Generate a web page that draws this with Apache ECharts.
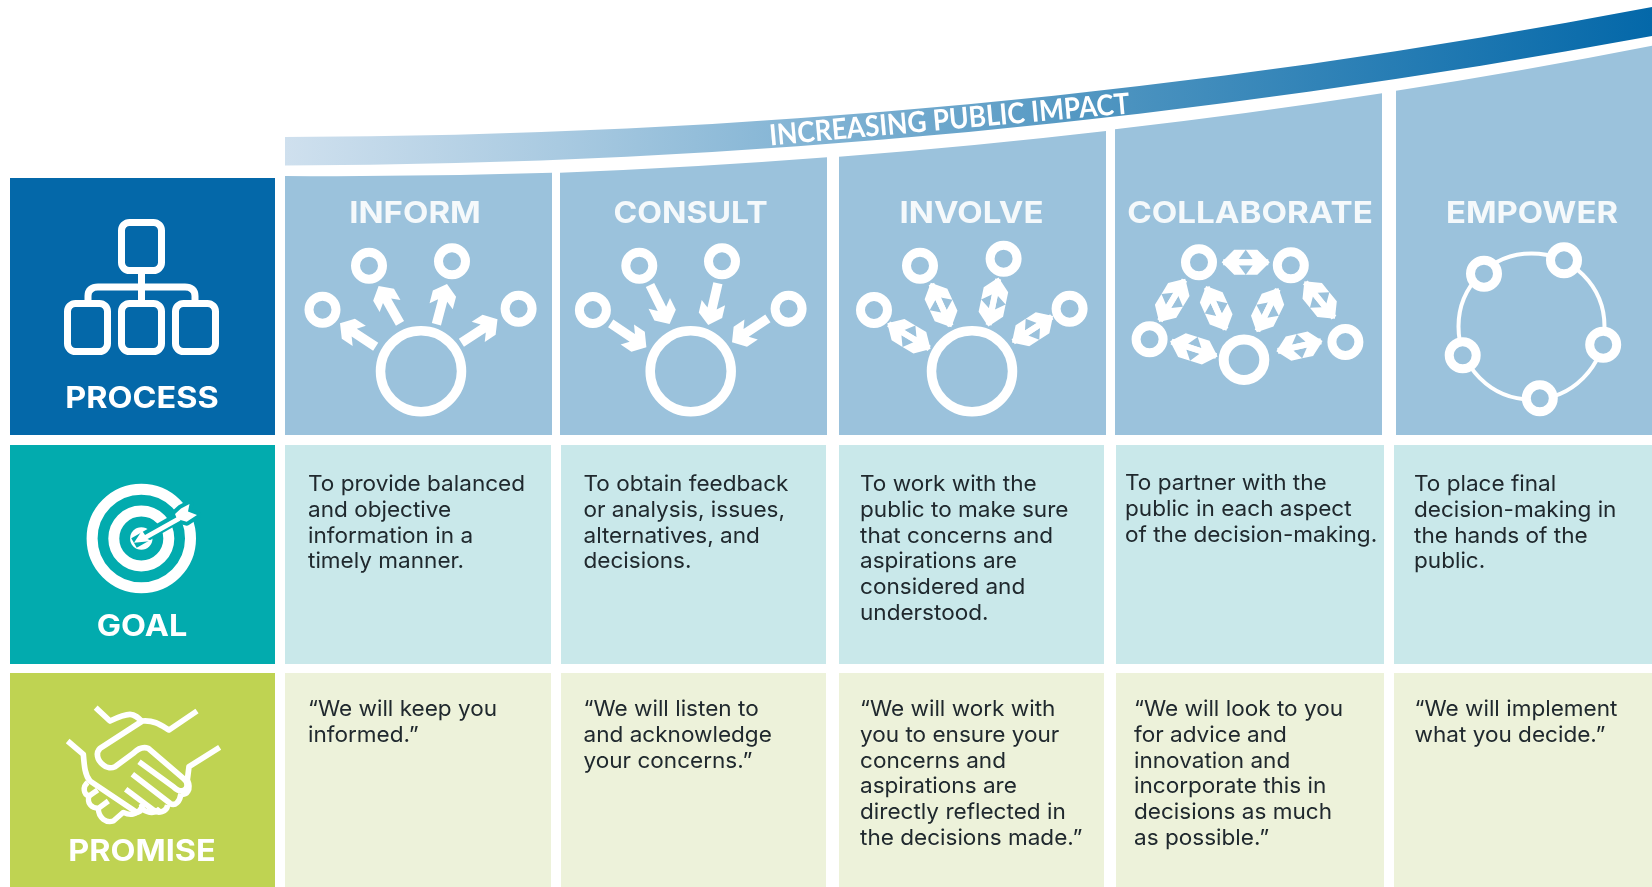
<!DOCTYPE html>
<html>
<head>
<meta charset="utf-8">
<title>Increasing public impact</title>
<script src="https://cdn.jsdelivr.net/npm/echarts@6/dist/echarts.min.js"></script>
<style>
  html, body { margin: 0; padding: 0; background: #fff; }
  #main { width: 1652px; height: 887px; }
</style>
</head>
<body>
<div id="main"></div>
<script>
const stages = ['INFORM', 'CONSULT', 'INVOLVE', 'COLLABORATE', 'EMPOWER']
const rowLabels = ['PROCESS', 'GOAL', 'PROMISE']
const bandTitle = 'INCREASING PUBLIC IMPACT'
const goals = [
  'To provide balanced\nand objective\ninformation in a\ntimely manner.',
  'To obtain feedback\nor analysis, issues,\nalternatives, and\ndecisions.',
  'To work with the\npublic to make sure\nthat concerns and\naspirations are\nconsidered and\nunderstood.',
  'To partner with the\npublic in each aspect\nof the decision-making.',
  'To place final\ndecision-making in\nthe hands of the\npublic.'
]
const promises = [
  '“We will keep you\ninformed.”',
  '“We will listen to\nand acknowledge\nyour concerns.”',
  '“We will work with\nyou to ensure your\nconcerns and\naspirations are\ndirectly reflected in\nthe decisions made.”',
  '“We will look to you\nfor advice and\ninnovation and\nincorporate this in\ndecisions as much\nas possible.”',
  '“We will implement\nwhat you decide.”'
]

// layout, canvas pixels
const labelCol = [10, 275]
const rowY = [[178, 435], [445, 664], [673, 887]]
const labelColor = ['#0468a9', '#02abae', '#bfd352']
const labelTextY = [398.5, 626.5, 851.5]
const headCols = [[285, 552], [560, 827], [839, 1106], [1115, 1382], [1396, 1652]]
const headTop = [[176, 172.7], [172.7, 157.3], [156.7, 131], [129.3, 93.3], [90.7, 45.7]]
const goalCols = [[285, 551], [561, 826], [839, 1104], [1116, 1384], [1394, 1652]]
const promiseCols = [[285, 551], [561, 826], [839, 1104], [1116, 1384], [1394, 1652]]
const headCx = [415, 690.5, 971.5, 1250, 1532]
const headScale = [1.1, 1.07, 1.1, 1.105, 1.095]
const goalX = [308, 583.5, 860, 1125, 1414]
const promiseX = [308, 583.5, 860, 1134, 1414.5]
const goalY = [484.5, 484.5, 484.5, 483.5, 484.5]
const HEAD_BG = '#9bc2dc'
const WHITE = '#ffffff'
const FONT = 'Inter'
const TEXT_COLOR = '#20292e'

function ring(cx, cy, r, w, fill) {
  return { type: 'circle', shape: { cx, cy, r }, style: { fill: fill || 'none', stroke: WHITE, lineWidth: w } }
}
function node(cx, cy, fill) { return ring(cx, cy, 13.5, 9, fill) }

function frame(t, o) {
  const dx = o[0] - t[0], dy = o[1] - t[1], len = Math.hypot(dx, dy)
  const d = [dx / len, dy / len], n = [-d[1], d[0]]
  const at = (u, v) => [t[0] + d[0] * u + n[0] * v, t[1] + d[1] * u + n[1] * v]
  return { at, len }
}
function arrow(tail, tip) {
  const { at, len } = frame(tip, tail)
  return { type: 'polygon', shape: { points: [at(0, 0), at(10, 12), at(23, 12), at(17, 4.7), at(len, 4.7), at(len, -4.7), at(17, -4.7), at(23, -12), at(10, -12)] }, style: { fill: WHITE } }
}
function dbl(a, b) {
  const one = h => {
    const m = h.len / 2
    // starts 1.5 past the end so the hexagon is a little longer
    return { type: 'polygon', shape: { points: [h.at(-1.5, 0), h.at(11, 12.5), h.at(m, 12.5), h.at(m - 7, 3), h.at(h.len, 3), h.at(h.len, -3), h.at(m - 7, -3), h.at(m, -12.5), h.at(11, -12.5)] }, style: { fill: WHITE } }
  }
  return [one(frame(a, b)), one(frame(b, a))]
}
function line(d, w) {
  return { type: 'path', shape: { pathData: d }, style: { fill: 'none', stroke: WHITE, lineWidth: w, lineJoin: 'round', lineCap: 'butt' } }
}

const icons = {
  process() {
    return [
      { type: 'rect', shape: { x: 121.5, y: 222.5, width: 40, height: 48, r: 8 }, style: { fill: 'none', stroke: WHITE, lineWidth: 7 } },
      { type: 'rect', shape: { x: 67.5, y: 303.5, width: 40, height: 48, r: 8 }, style: { fill: 'none', stroke: WHITE, lineWidth: 7 } },
      { type: 'rect', shape: { x: 121.5, y: 303.5, width: 40, height: 48, r: 8 }, style: { fill: 'none', stroke: WHITE, lineWidth: 7 } },
      { type: 'rect', shape: { x: 175.5, y: 303.5, width: 40, height: 48, r: 8 }, style: { fill: 'none', stroke: WHITE, lineWidth: 7 } },
      line('M141.5 274V300', 7),
      line('M88 300V296C88 290 92 287 98 287H185C191 287 195 290 195 296V300', 7)
    ]
  },
  goal() {
    const teal = labelColor[1]
    const fletch = [[189.5, 504], [188, 511.5], [197, 515], [186.7, 521.7], [177, 519], [175, 514], [181, 508.5]]
    return [
      ring(141.3, 538.5, 49.2, 11),
      ring(141.3, 538.5, 27.5, 11),
      { type: 'circle', shape: { cx: 141.3, cy: 538.5, r: 11.2 }, style: { fill: WHITE } },
      { type: 'path', shape: { pathData: 'M134 543L185 514' }, style: { fill: 'none', stroke: teal, lineWidth: 11 } },
      { type: 'polygon', shape: { points: fletch }, style: { fill: teal, stroke: teal, lineWidth: 8, lineJoin: 'round' } },
      { type: 'polygon', shape: { points: [[134, 542.7], [142, 530.5], [145, 535], [178, 516.5], [180.5, 520.5], [147.5, 539], [152, 541]] }, style: { fill: WHITE } },
      { type: 'polygon', shape: { points: fletch }, style: { fill: WHITE } }
    ]
  },
  promise() {
    return [{
      type: 'group', x: 55, y: 695, scaleX: 1 / 3, scaleY: 1 / 3,
      children: [
        line('M122 38L165 78C190 66 210 58 225 58C240 58 250 68 262 80', 17),
        line('M426 48L342 105C320 92 300 75 262 78L135 160C122 172 125 195 145 210C155 220 170 220 180 215L235 175C250 160 265 155 280 160L385 250C400 262 400 280 385 287C375 290 365 285 355 275L252 200', 17),
        line('M232 238L345 325C360 335 375 320 378 296', 17),
        line('M212 283L295 345C310 358 335 350 338 330', 17),
        line('M494 157L402 215L397 255C410 285 395 300 378 298', 17),
        line('M38 138L85 178C88 215 90 240 105 258L245 352C260 350 265 335 258 325', 17),
        line('M98 262C82 275 85 298 102 303L128 285', 16),
        line('M102 303C95 325 110 340 130 340L160 318', 16),
        line('M130 340C130 370 155 385 175 378L205 352C225 362 245 360 258 340C280 355 300 358 315 340', 16)
      ]
    }]
  },
  inform() {
    return [
      ring(421, 371.3, 40.5, 9.5), node(369, 265.7), node(452, 261.3), node(322.5, 309.7), node(518.6, 308.7),
      arrow([375.7, 346.7], [340, 323.3]), arrow([400, 323.3], [378.6, 286]),
      arrow([436.4, 324.3], [447, 284]), arrow([461.4, 342.7], [497.5, 319.3])
    ]
  },
  consult() {
    return [
      ring(690.7, 371.3, 40.5, 9.5), node(592.9, 310), node(639.3, 265.7), node(722, 261.3), node(788.6, 308.7),
      arrow([610.7, 323.3], [646.4, 347.3]), arrow([650, 285], [669.6, 324]),
      arrow([717.9, 283.3], [708.2, 325]), arrow([767.9, 318.3], [732, 342.3])
    ]
  },
  involve() {
    return [
      ring(972, 371.3, 40.5, 9.5), node(874, 310), node(920, 265.7), node(1003.6, 258.7), node(1069.6, 308.7),
      ...dbl([888.6, 324], [929.3, 348.3]), ...dbl([931.4, 284], [950.7, 326]),
      ...dbl([998.2, 279], [988.6, 325]), ...dbl([1051.8, 316.7], [1013.2, 341.7])
    ]
  },
  collaborate() {
    return [
      ring(1244, 359.7, 20.3, 10), node(1199, 262.3), node(1290.8, 265.3), node(1149.6, 339.3), node(1345.4, 342),
      ...dbl([1223.2, 262.3], [1268.3, 262.3]), ...dbl([1184.5, 280], [1159.9, 320.7]),
      ...dbl([1206.7, 287.3], [1225.7, 329.3]), ...dbl([1277.8, 289.3], [1257.4, 331]),
      ...dbl([1305.3, 282.3], [1334, 317.7]), ...dbl([1171.5, 341.7], [1216.2, 356]),
      ...dbl([1321.1, 341.3], [1277.8, 351])
    ]
  },
  empower() {
    return [
      ring(1531.5, 326.5, 73, 4),
      node(1484, 273.7, HEAD_BG), node(1564, 260.3, HEAD_BG), node(1603.2, 344.7, HEAD_BG),
      node(1539.8, 398.3, HEAD_BG), node(1462.7, 355.3, HEAD_BG)
    ]
  }
}
const iconNames = Object.keys(icons)

const rowBg = ['', '#c9e8ea', '#edf2da']

const option = {
  animation: false,
  backgroundColor: '#ffffff',
  grid: { left: 0, right: 0, top: 0, bottom: 0 },
  xAxis: { type: 'value', min: 0, max: 1652, show: false },
  yAxis: { type: 'value', min: 0, max: 887, inverse: true, show: false },
  series: [
    {
      // curved band across the top
      type: 'custom', z: 1, silent: true, clip: false,
      data: [[0]],
      renderItem(params, api) {
        const o = api.coord([0, 0])
        return {
          type: 'group', x: o[0], y: o[1],
          children: [
            {
              type: 'path',
              shape: { pathData: 'M285 137C741 136 1196 94 1652 7V36C1196 120 741 164.5 285 165.5Z' },
              style: {
                fill: new echarts.graphic.LinearGradient(0, 0, 1, 0, [
                  { offset: 0, color: '#cfe0ee' },
                  { offset: 0.2, color: '#a9cae1' },
                  { offset: 0.4, color: '#7fb2d3' },
                  { offset: 0.62, color: '#4a92bf' },
                  { offset: 1, color: '#0468a9' }
                ])
              }
            },
            {
              type: 'text', x: 949.5, y: 120, rotation: 5.1 * Math.PI / 180, scaleX: 0.91,
              style: { text: bandTitle, x: 0, y: 0, fill: WHITE, font: '700 29px Lato', align: 'center', verticalAlign: 'middle' }
            }
          ]
        }
      }
    },
    {
      // row labels down the left
      type: 'custom', z: 1, silent: true, clip: false,
      data: rowLabels.map((r, i) => [i]),
      renderItem(params, api) {
        const i = api.value(0)
        const a = api.coord([labelCol[0], rowY[i][0]]), b = api.coord([labelCol[1], rowY[i][1]])
        return {
          type: 'group',
          children: [
            { type: 'rect', shape: { x: a[0], y: a[1], width: b[0] - a[0], height: b[1] - a[1] }, style: { fill: labelColor[i] } },
            { type: 'text', x: 142, y: labelTextY[i], scaleX: 1.08, style: { text: rowLabels[i], x: 0, y: 0, fill: WHITE, font: '700 30px ' + FONT, align: 'center', verticalAlign: 'middle' } }
          ]
        }
      }
    },
    {
      // stage header cells
      type: 'custom', z: 1, silent: true, clip: false,
      data: stages.map((s, i) => [i]),
      renderItem(params, api) {
        const i = api.value(0)
        const c = headCols[i], t = headTop[i]
        const bottom = rowY[0][1]
        const d = 'M' + c[0] + ' ' + t[0] + 'Q' + (c[0] + c[1]) / 2 + ' ' + ((t[0] + t[1]) / 2 + 2.7) + ' ' + c[1] + ' ' + t[1] + 'V' + bottom + 'H' + c[0] + 'Z'
        return {
          type: 'group',
          children: [
            { type: 'path', shape: { pathData: d }, style: { fill: HEAD_BG } },
            { type: 'text', x: headCx[i], y: 214, scaleX: headScale[i], style: { text: stages[i], x: 0, y: 0, fill: '#f5f9fb', font: '700 30px ' + FONT, align: 'center', verticalAlign: 'middle' } }
          ]
        }
      }
    },
    {
      // goal cells
      type: 'custom', z: 1, silent: true, clip: false,
      data: goals.map((g, i) => [i]),
      renderItem(params, api) {
        const i = api.value(0)
        const c = goalCols[i]
        return {
          type: 'group',
          children: [
            { type: 'rect', shape: { x: c[0], y: rowY[1][0], width: c[1] - c[0], height: rowY[1][1] - rowY[1][0] }, style: { fill: rowBg[1] } },
            { type: 'text', x: goalX[i], y: goalY[i] - 13, scaleX: 1.025, style: { text: goals[i], x: 0, y: 0, fill: TEXT_COLOR, font: '400 22px ' + FONT, lineHeight: 25.8, verticalAlign: 'top' } }
          ]
        }
      }
    },
    {
      // promise cells
      type: 'custom', z: 1, silent: true, clip: false,
      data: promises.map((p, i) => [i]),
      renderItem(params, api) {
        const i = api.value(0)
        const c = promiseCols[i]
        return {
          type: 'group',
          children: [
            { type: 'rect', shape: { x: c[0], y: rowY[2][0], width: c[1] - c[0], height: rowY[2][1] - rowY[2][0] }, style: { fill: rowBg[2] } },
            { type: 'text', x: promiseX[i], y: 709.5 - 13, scaleX: 1.025, style: { text: promises[i], x: 0, y: 0, fill: TEXT_COLOR, font: '400 22px ' + FONT, lineHeight: 25.8, verticalAlign: 'top' } }
          ]
        }
      }
    },
    {
      // icons on top of the cells
      type: 'custom', z: 5, silent: true, clip: false,
      data: iconNames.map((n, i) => [i]),
      renderItem(params, api) {
        const o = api.coord([0, 0])
        return { type: 'group', x: o[0], y: o[1], children: icons[iconNames[api.value(0)]]() }
      }
    }
  ]
}

const chart = echarts.init(document.getElementById('main'), null, { renderer: 'canvas' })
chart.setOption(option)
</script>
</body>
</html>
